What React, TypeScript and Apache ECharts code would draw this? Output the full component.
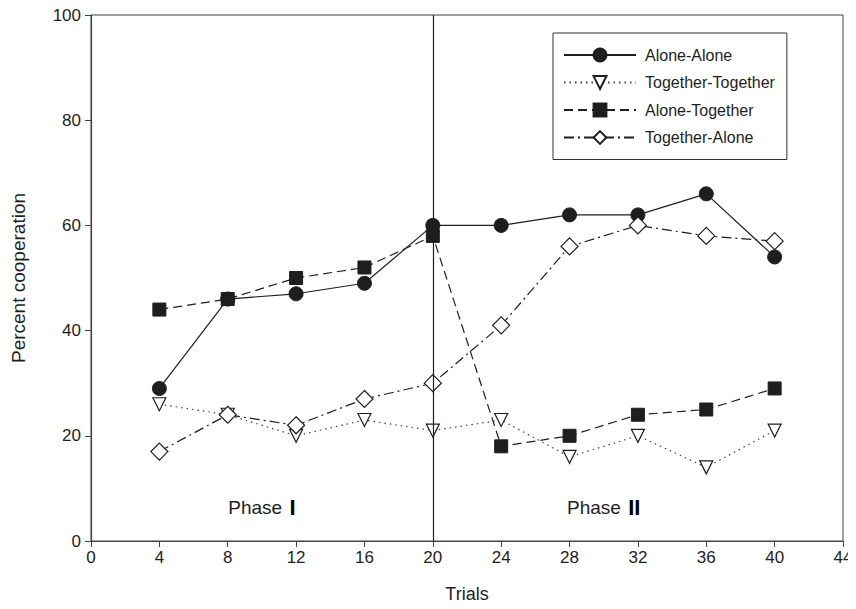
import React, { useEffect, useRef } from "react";
import * as echarts from "echarts";

const trials = [4, 8, 12, 16, 20, 24, 28, 32, 36, 40];
const aloneAlone = [29, 46, 47, 49, 60, 60, 62, 62, 66, 54];
const togetherTogether = [26, 24, 20, 23, 21, 23, 16, 20, 14, 21];
const aloneTogether = [44, 46, 50, 52, 58, 18, 20, 24, 25, 29];
const togetherAlone = [17, 24, 22, 27, 30, 41, 56, 60, 58, 57];
const phaseLabels: [number, number, string][] = [
  [10, 6, "Phase {r|I}"],
  [30, 6, "Phase {r|II}"],
];
const phaseBoundary = 20;

const FONT = "'Liberation Sans', Arial, Helvetica, sans-serif";
const INK = "#1e1e1e";

function pairs(vals: number[]) {
  return trials.map((t, i) => [t, vals[i]]);
}

export default function App() {
  const ref = useRef<HTMLDivElement>(null);
  useEffect(() => {
    if (!ref.current) return;
    const chart = echarts.init(ref.current, undefined, { renderer: "svg" });
    const base = {
      type: "line",
      z: 3,
      lineStyle: { color: INK, width: 1.2 },
      emphasis: { disabled: true },
    };
    chart.setOption({
      animation: false,
      backgroundColor: "#fff",
      textStyle: { fontFamily: FONT },
      grid: {
        left: 91,
        top: 15,
        right: 13,
        bottom: 68,
        show: true,
        borderColor: "#444",
        borderWidth: 1,
        containLabel: false,
        outerBoundsMode: "none",
      },
      legend: {
        data: ["Alone-Alone", "Together-Together", "Alone-Together", "Together-Alone"],
        orient: "vertical",
        left: 553,
        top: 33,
        width: 270,
        backgroundColor: "#fff",
        borderColor: "#333",
        borderWidth: 1,
        borderRadius: 0,
        padding: [14, 12, 14, 10],
        itemGap: 11.5,
        itemWidth: 72,
        itemHeight: 16,
        textStyle: { fontSize: 16, color: INK, fontFamily: FONT, padding: [0, 0, 0, 4] },
        selectedMode: false,
      },
      xAxis: {
        type: "value",
        min: 0,
        max: 44,
        interval: 4,
        name: "Trials",
        nameLocation: "middle",
        nameGap: 44,
        nameTextStyle: { fontSize: 18, color: INK, fontFamily: FONT },
        axisLine: { show: true, lineStyle: { color: "#444", width: 1.2 } },
        axisTick: { show: true, length: 6, lineStyle: { color: "#444" } },
        axisLabel: { fontSize: 17, color: INK, margin: 8, fontFamily: FONT },
        splitLine: { show: false },
      },
      yAxis: {
        type: "value",
        min: 0,
        max: 100,
        interval: 20,
        name: "Percent cooperation",
        nameLocation: "middle",
        nameGap: 63,
        nameTextStyle: { fontSize: 19, color: INK, fontFamily: FONT },
        axisLine: { show: true, lineStyle: { color: "#444", width: 1.2 } },
        axisTick: { show: true, length: 6, lineStyle: { color: "#444" } },
        axisLabel: { fontSize: 17, color: INK, margin: 10, fontFamily: FONT },
        splitLine: { show: false },
      },
      series: [
        {
          ...base,
          name: "Alone-Alone",
          data: pairs(aloneAlone),
          symbol: "circle",
          symbolSize: 14,
          itemStyle: { color: INK, borderColor: INK, borderWidth: 1 },
          lineStyle: { color: INK, width: 1.2, type: "solid" },
          markLine: {
            silent: true,
            symbol: "none",
            label: { show: false },
            lineStyle: { color: INK, width: 1.2, type: "solid" },
            data: [{ xAxis: phaseBoundary }],
          },
        },
        {
          ...base,
          name: "Together-Together",
          data: pairs(togetherTogether),
          symbol: "triangle",
          symbolRotate: 180,
          symbolSize: 13,
          itemStyle: { color: "#fff", borderColor: INK, borderWidth: 1.2 },
          lineStyle: { color: "#444", width: 1.2, type: [1.5, 4] },
        },
        {
          ...base,
          name: "Alone-Together",
          data: pairs(aloneTogether),
          symbol: "rect",
          symbolSize: 13,
          itemStyle: { color: INK, borderColor: INK, borderWidth: 1 },
          lineStyle: { color: INK, width: 1.2, type: [9, 5] },
        },
        {
          ...base,
          name: "Together-Alone",
          data: pairs(togetherAlone),
          symbol: "diamond",
          symbolSize: 17,
          itemStyle: { color: "#fff", borderColor: INK, borderWidth: 1.2 },
          lineStyle: { color: INK, width: 1.2, type: [10, 4, 2, 4] },
        },
        {
          type: "scatter",
          name: "phases",
          data: phaseLabels,
          symbolSize: 1,
          itemStyle: { color: "#ffffff", opacity: 0 },
          silent: true,
          label: {
            show: true,
            position: "top",
            distance: -10,
            formatter: (p: any) => p.value[2],
            fontSize: 19,
            color: INK,
            opacity: 1,
            textBorderWidth: 0,
            fontFamily: FONT,
            rich: {
              r: {
                fontSize: 22,
                fontWeight: 900,
                color: "#000",
                textBorderWidth: 0,
                fontFamily: FONT,
                padding: [0, 0, 0, 2],
              },
            },
          },
        },
      ],
    });
    return () => chart.dispose();
  }, []);
  return <div ref={ref} style={{ width: 856, height: 609, margin: -8 }} />;
}
